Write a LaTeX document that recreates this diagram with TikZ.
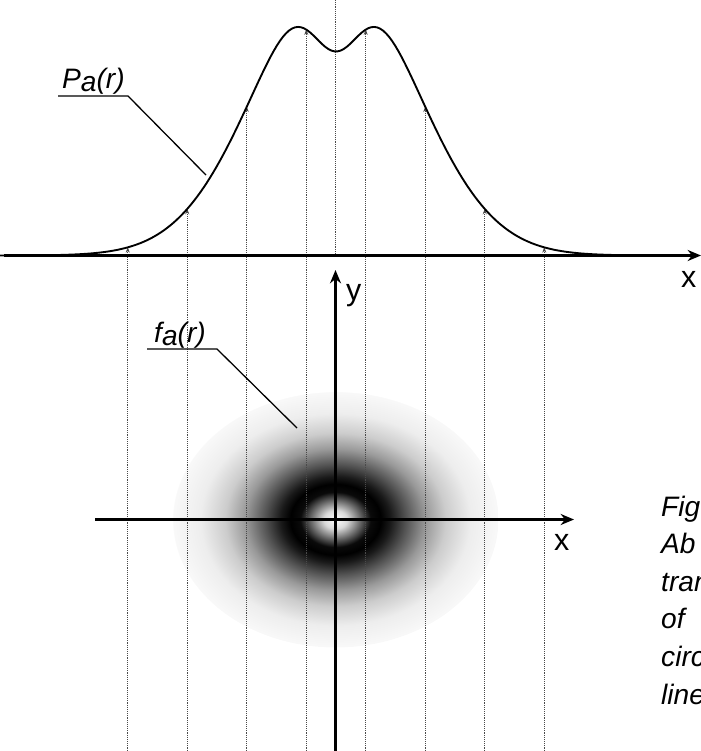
\documentclass[tikz,border=0pt]{standalone}
\usepackage{fontspec}
\setmainfont{Liberation Sans}
\usepackage{xcolor}
\definecolor{cInk}{HTML}{000000}
\definecolor{cGuide}{HTML}{4A4A4A}
\usetikzlibrary{arrows.meta,calc}
% ring image: dark annulus, bright core, soft halo
\pgfdeclareradialshading{ringshade}{\pgfpoint{0bp}{0bp}}{%
  color(0bp)=(white); color(1.8bp)=(black!15); color(3.8bp)=(black!60);
  color(5.4bp)=(black!96); color(6.9bp)=(black); color(8.4bp)=(black!90);
  color(10.7bp)=(black!68); color(13.8bp)=(black!40); color(16.9bp)=(black!20);
  color(20.7bp)=(black!7); color(24.9bp)=(black!2.5); color(25bp)=(white);
  color(50bp)=(white)}
\tikzset{
  axis-line/.style={line width=2pt,draw=cInk,-{Stealth[length=4mm,width=3.3mm]}},
  profile-line/.style={line width=1.6pt,draw=cInk},
  leader-line/.style={line width=1.1pt,draw=cInk},
  guide-line/.style={line width=0.6pt,draw=cGuide,densely dotted},
  guide-arrow/.style={guide-line,-{Stealth[length=1.6mm,width=1.2mm]}},
  axis-text/.style={inner sep=0pt,anchor=base west,font=\fontsize{26}{30}\selectfont},
  label-text/.style={inner sep=0pt,anchor=base west,font=\fontsize{24}{26}\selectfont\itshape},
  caption-text/.style={inner sep=0pt,anchor=base west,font=\fontsize{24}{32}\selectfont\itshape},
}

\begin{document}
\begin{tikzpicture}[x=0.3mm,y=-0.3mm,
  declare function={prof(\t)=286*exp(-0.82*\t*\t)-82*exp(-8.08*\t*\t);}]
  \useasboundingbox (0,0) rectangle (701,751);
  \shade[shading=ringshade] (335.5,519.5) ellipse [x radius=163,y radius=128];
  % projection lines from the image up to the profile
  \foreach \k in {-3,...,4} {
    \pgfmathsetmacro{\gx}{0.595*(\k-0.5)}
    \draw[guide-arrow] ({336+100*\gx},751) -- ({336+100*\gx},{255.5-prof(\gx)});
  }
  \draw[guide-line] (335.5,0) -- (335.5,255.5);
  % axes
  \draw[axis-line] (4,255.5) -- (701,255.5);
  \draw[axis-line] (95,519.5) -- (574,519.5);
  \draw[axis-line] (335.5,751) -- (335.5,270);
  \node[axis-text] (xtop) at (681,287) {x};
  \node[axis-text] (xlow) at (554,550) {x};
  \node[axis-text] (ylab) at (346,300) {y};
  % profile P_a(r)
  \draw[profile-line] plot[domain=-3.36:3.3,samples=220] ({336+100*\x},{255.5-prof(\x)});
  % labels with leaders
  \node[label-text] (plab) at (62,88) {P\raisebox{-0.12em}{a}(r)};
  \coordinate (pfoot) at (58,96);
  \coordinate (pknee) at (128,96);
  \coordinate (ptip) at (206,175);
  \draw[leader-line] (pfoot) -- (pknee) -- (ptip);
  \node[label-text] (flab) at (154,342) {f\raisebox{-0.12em}{a}(r)};
  \coordinate (ffoot) at (147,349);
  \coordinate (fknee) at (217,349);
  \coordinate (ftip) at (297,428);
  \draw[leader-line] (ffoot) -- (fknee) -- (ftip);
  % caption, cut by the page edge
  \foreach \w [count=\i from 0] in {Fig,Ab,tran,of,circ,line}
    \node[caption-text] (cap\i) at (661,{516+37.6*\i}) {\w};
\end{tikzpicture}
\end{document}
